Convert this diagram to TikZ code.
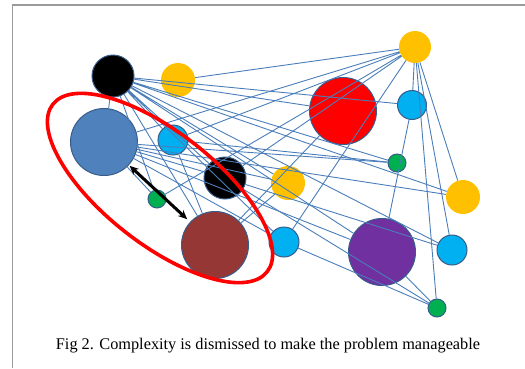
\documentclass[tikz,border=0pt]{standalone}
\usepackage{fontspec}
\setmainfont{Liberation Serif}
\usetikzlibrary{arrows.meta}
\definecolor{linkc}{HTML}{4A7EBB}
\definecolor{rimc}{HTML}{385D8A}
\definecolor{dotgold}{HTML}{FFC000}
\definecolor{dotcyan}{HTML}{00B0F0}
\definecolor{dotgreen}{HTML}{00B050}
\definecolor{dotsteel}{HTML}{4F81BD}
\definecolor{dotbrown}{HTML}{953735}
\definecolor{dotpurple}{HTML}{7030A0}
\definecolor{framec}{HTML}{9A9A9A}
\begin{document}
\begin{tikzpicture}[
  x=1pt, y=-1pt,
  >={Stealth[length=9pt, width=8pt]},
  dot/.style={circle, draw=rimc, line width=1pt, inner sep=0pt},
  tiny/.style={dot, minimum size=18pt, fill=dotgreen},
  mid/.style={dot, minimum size=30pt, fill=dotcyan},
  gold/.style={circle, inner sep=0pt, minimum size=34pt, fill=dotgold},
  dark/.style={dot, minimum size=42pt, fill=black},
  big/.style={dot, minimum size=67pt},
  link/.style={draw=linkc, line width=0.9pt}
]
\useasboundingbox (0,0) rectangle (525,368);
\draw[framec, line width=1.3pt] (12.5,368) -- (12.5,5) -- (525,5);
\node[dark] (blk1) at (113,76) {};
\node[gold] (yel1) at (178,80) {};
\node[gold, minimum size=32pt] (yelT) at (415,47) {};
\node[big, fill=red] (red) at (343,111) {};
\node[mid, minimum size=29pt] (cyT) at (412,105) {};
\node[big, fill=dotsteel] (blu) at (104,142) {};
\node[mid] (cy1) at (173,140) {};
\node[dark] (blk2) at (225,178) {};
\node[gold] (yelM) at (288,183) {};
\node[tiny] (grT) at (397,163) {};
\node[gold] (yelR) at (463,197) {};
\node[tiny] (gr1) at (157,199) {};
\node[big, fill=dotbrown] (brn) at (215,245) {};
\node[mid] (cyM) at (284,242) {};
\node[big, fill=dotpurple] (pur) at (382,252) {};
\node[mid] (cyR) at (452,250) {};
\node[tiny] (grB) at (437,308) {};
\draw[link] (blk1) -- (blu) (blk1) -- (cy1) (blk1) -- (blk2) (blk1) -- (brn)
  (blk1) -- (yelM) (blk1) -- (cyM) (blk1) -- (red) (blk1) -- (cyT)
  (blk1) -- (grT) (blk1) -- (yelR) (blk1) -- (pur) (blk1) -- (cyR) (blk1) -- (gr1);
\draw[link] (yelT) -- (yel1) (yelT) -- (cy1) (yelT) -- (blk2) (yelT) -- (gr1)
  (yelT) -- (cyM) (yelT) -- (cyT) (yelT) -- (yelR) (yelT) -- (cyR)
  (yelT) -- (grB) (yelT) -- (blu);
\draw[link] (blu) -- (blk2) (blu) -- (yelM) (blu) -- (yelR) (blu) -- (cyM)
  (blu) -- (pur) (blu) -- (grT) (blu) -- (gr1);
\draw[link] (cy1) -- (brn) (cy1) -- (grT) (brn) -- (red) (brn) -- (yelM)
  (blk2) -- (grB) (blk2) -- (cyR) (cyM) -- (grB) (pur) -- (grB) (cyT) -- (pur);
\draw[<->, line width=3pt, shorten <=1pt, shorten >=4pt] (blu) -- (brn);
\draw[red, line width=3.6pt, rotate around={-38:(160,188)}] (160,188) ellipse [x radius=136pt, y radius=56pt];
\node[font=\fontsize{16.3}{19}\selectfont, text=black] (cap) at (268,346) {Fig 2. Complexity is dismissed to make the problem manageable};
\end{tikzpicture}
\end{document}
